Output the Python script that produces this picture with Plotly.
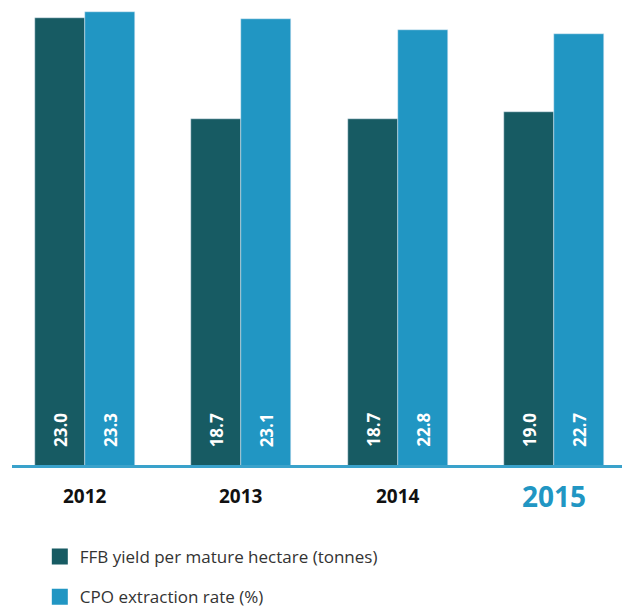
import plotly.graph_objects as go

# --- DATOS ---
years = ["2012", "2013", "2014", "2015"]
ffb_yield = [23.0, 18.7, 18.7, 19.0]      # tonnes per mature hectare
cpo_rate = [23.3, 23.1, 22.8, 22.7]       # %

FFB_NAME = "FFB yield per mature hectare (tonnes)"
CPO_NAME = "CPO extraction rate (%)"

DARK = "#175b63"
LIGHT = "#2196c3"
FONT = "Open Sans"

fig = go.Figure()

# barras: cada serie en su propio eje y (escalas distintas, como el original)
fig.add_trace(go.Bar(
    x=years, y=ffb_yield, name=FFB_NAME, marker_color=DARK,
    width=0.32, offset=-0.32, yaxis="y", showlegend=False,
))
fig.add_trace(go.Bar(
    x=years, y=cpo_rate, name=CPO_NAME, marker_color=LIGHT,
    width=0.32, offset=0, yaxis="y2", showlegend=False,
))

# entradas de leyenda con cuadros más grandes
for name, color, grp in [(FFB_NAME, DARK, "a"), (CPO_NAME, LIGHT, "b")]:
    fig.add_trace(go.Scatter(
        x=[None], y=[None], mode="markers", name=name, legendgroup=grp,
        marker=dict(symbol="square", size=16, color=color),
    ))

annotations = []
# etiquetas de valor, giradas, en la base de cada barra
for i, (a, b) in enumerate(zip(ffb_yield, cpo_rate)):
    for val, shift in [(a, -25), (b, 25)]:
        annotations.append(dict(
            x=i, xref="x", xshift=shift, y=0, yref="paper", yanchor="bottom",
            yshift=16, text=f"<b>{val:.1f}</b>", textangle=-90, showarrow=False,
            font=dict(family=FONT, size=17, color="white"),
        ))

# etiquetas de años
for i, yr in enumerate(years):
    last = i == len(years) - 1
    annotations.append(dict(
        x=i, xref="x", y=0, yref="paper", yanchor="middle", yshift=-31,
        text=f"<b>{yr}</b>", showarrow=False,
        font=dict(family=FONT, size=28 if last else 19,
                  color=LIGHT if last else "#111111"),
    ))

fig.update_layout(
    width=622, height=599,
    margin=dict(l=4, r=0, t=0, b=142),
    paper_bgcolor="white", plot_bgcolor="white",
    bargap=0,
    annotations=annotations,
    xaxis=dict(
        type="category", range=[-0.467, 3.486], showticklabels=False,
        showgrid=False, zeroline=False, showline=True,
        linecolor="#3aa2cb", linewidth=2.5, ticks="",
    ),
    yaxis=dict(range=[4.03, 23.415], visible=False),
    yaxis2=dict(range=[10.62, 23.416], visible=False, overlaying="y"),
    legend=dict(
        orientation="v", x=0.045, xanchor="left",
        yref="container", y=0.1135, yanchor="top",
        font=dict(family=FONT, size=17, color="#333333"),
        tracegroupgap=15, bgcolor="rgba(0,0,0,0)",
    ),
    font=dict(family=FONT),
)

fig.write_html("out.html")
